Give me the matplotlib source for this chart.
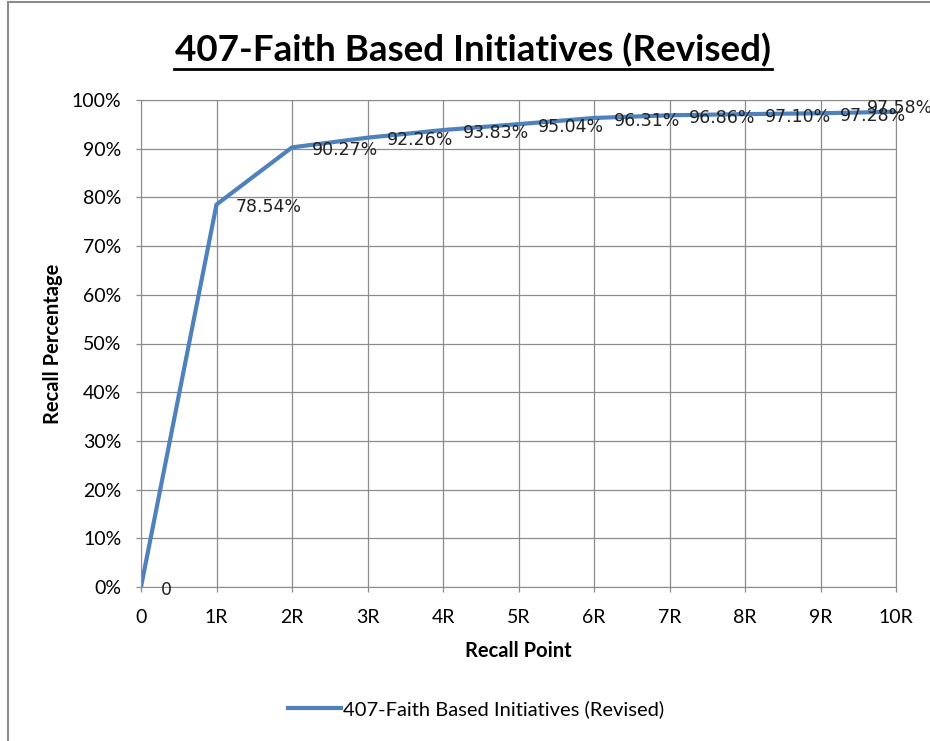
import matplotlib
matplotlib.use("Agg")
from matplotlib import pyplot as plt
from matplotlib.lines import Line2D
from matplotlib.patches import Rectangle
from matplotlib.ticker import PercentFormatter

# Chart data
points = ["0", "1R", "2R", "3R", "4R", "5R", "6R", "7R", "8R", "9R", "10R"]
recall = [0, 78.54, 90.27, 92.26, 93.83, 95.04, 96.31, 96.86, 97.10, 97.28, 97.58]
point_labels = ["0", "78.54%", "90.27%", "92.26%", "93.83%", "95.04%",
                "96.31%", "96.86%", "97.10%", "97.28%", "97.58%"]
series_name = "407-Faith Based Initiatives (Revised)"
title = "407-Faith Based Initiatives (Revised)"

W, H = 930, 741
fig = plt.figure(figsize=(W / 100, H / 100), dpi=100)
ax = fig.add_axes([141 / W, 1 - 587 / H, (896 - 141) / W, (587 - 100) / H])

# outer chart border (cut off at right and bottom like the screenshot)
fig.patches.append(Rectangle((8 / W, -0.1), 1.2, 1 - 2 / H + 0.1, transform=fig.transFigure,
                             fill=False, edgecolor="#8c8c8c", linewidth=1.5))

x = list(range(len(points)))
line, = ax.plot(x, recall, color="#4F81BD", linewidth=3, solid_capstyle="butt")

for i, (xi, yi, lab) in enumerate(zip(x, recall, point_labels)):
    # last label is pushed back inside the chart, as the spreadsheet does
    off = (14, -2) if i < len(x) - 1 else (-21, 3)
    ax.annotate(lab, (xi, yi), xytext=off, textcoords="offset points",
                ha="left", va="center", fontsize=12.5, color="#222222",
                family="DejaVu Sans", annotation_clip=False)

ax.set_xlim(0, 10)
ax.set_ylim(0, 100)
ax.set_xticks(x)
ax.set_xticklabels(points)
ax.set_yticks(range(0, 101, 10))
ax.yaxis.set_major_formatter(PercentFormatter(decimals=0))
ax.grid(color="#8c8c8c", linewidth=0.9)
ax.set_axisbelow(True)
for s in ax.spines.values():
    s.set_color("#8c8c8c")
ax.tick_params(colors="#8c8c8c", length=3.6, width=0.9, labelcolor="black",
               labelsize=14, pad=10.5)
ax.tick_params(axis="x", pad=12)
for t in ax.get_xticklabels() + ax.get_yticklabels():
    t.set_family("Lato")

ax.set_xlabel("Recall Point", fontsize=14.5, fontweight="bold", family="Lato", labelpad=11)
ax.set_ylabel("Recall Percentage", fontsize=14.5, fontweight="bold", family="Lato", labelpad=6)

# title with underline
fig.text(473 / W, 1 - 50 / H, title, ha="center", va="center", fontsize=26.5,
         fontweight="bold", family="Lato")
fig.add_artist(Line2D([174 / W, 772 / W], [1 - 69 / H, 1 - 69 / H],
                      color="black", linewidth=2, transform=fig.transFigure))

leg = fig.legend([Line2D([0], [0], color="#4F81BD", lw=3)], [series_name],
                 loc="center", bbox_to_anchor=(476 / W, 1 - 709 / H), frameon=False,
                 prop={"family": "Lato", "size": 14.5}, handlelength=2.6, handletextpad=0.1)

plt.savefig("out.png", dpi=100)
plt.close()
